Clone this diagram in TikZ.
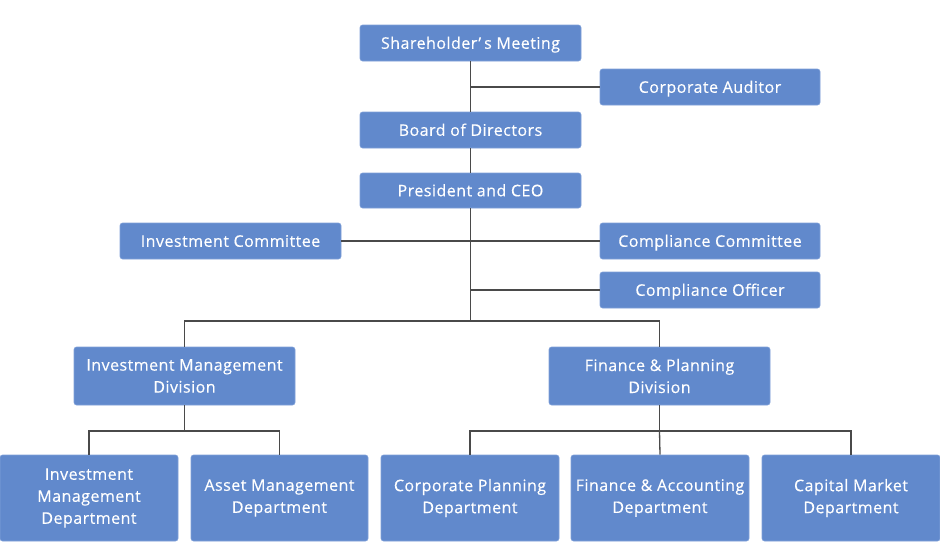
\documentclass[tikz,border=0pt]{standalone}
\usepackage{fontspec}
\setmainfont{Open Sans}[LetterSpace=3, FakeBold=0.35]
\definecolor{boxblue}{HTML}{6189CC}
\definecolor{boxedge}{HTML}{7FA0D8}
\definecolor{linegray}{HTML}{4A4A4A}
\tikzset{
  orgbox/.style={fill=boxblue, draw=boxedge, line width=0.6pt, rounded corners=2.5pt,
    text=white, align=center, inner sep=0pt, font=\fontsize{16}{22}\selectfont},
  onebox/.style={orgbox, text height=11.6pt, text depth=0pt},
  conn/.style={draw=linegray, line width=1.3pt},
}
\begin{document}
\begin{tikzpicture}[x=1pt,y=-1pt]
\useasboundingbox (0,0) rectangle (940,541);
% top chain
\node[onebox, minimum width=221, minimum height=36] (SM) at (470.5,43) {Shareholder’\hspace{3pt}s Meeting};
\node[onebox, minimum width=220, minimum height=36] (CA) at (710,87) {Corporate Auditor};
\node[onebox, minimum width=221, minimum height=36] (BD) at (470.5,130) {Board of Directors};
\node[onebox, minimum width=221, minimum height=35] (PC) at (470.5,190.5) {President and CEO};
\node[onebox, minimum width=221, minimum height=36] (IC) at (230.5,241) {Investment Committee};
\node[onebox, minimum width=220, minimum height=36] (CC) at (710,241) {Compliance Committee};
\node[onebox, minimum width=220, minimum height=36] (CO) at (710,290) {Compliance Officer};
% divisions
\node[orgbox, minimum width=221, minimum height=58] (IMD) at (184.5,376) {Investment Management\\Division};
\node[orgbox, minimum width=221, minimum height=58] (FPD) at (659.5,376) {Finance \& Planning\\Division};
% departments
\node[orgbox, minimum width=178, minimum height=86] (IMDep) at (89,498) {Investment\\Management\\Department};
\node[orgbox, minimum width=177, minimum height=86] (AMD) at (279.5,498) {Asset Management\\Department};
\node[orgbox, minimum width=178, minimum height=86] (CPD) at (470,498) {Corporate Planning\\Department};
\node[orgbox, minimum width=178, minimum height=86] (FAD) at (660,498) {Finance \& Accounting\\Department};
\node[orgbox, minimum width=178, minimum height=86] (CMD) at (851,498) {Capital Market\\Department};
% junctions
\coordinate (jdiv) at (470.5,321);
\coordinate (jimd) at (184.5,431);
\coordinate (jfpd) at (659.5,431);
% connectors
\draw[conn] (SM.south) -- (BD.north);
\draw[conn] (CA.west) -- (CA.west -| SM.south);
\draw[conn] (BD.south) -- (PC.north);
\draw[conn] (PC.south) -- (jdiv);
\draw[conn] (IC.east) -- (CC.west);
\draw[conn] (CO.west) -- (CO.west -| PC.south);
\draw[conn] (IMD.north) |- (jdiv) -| (FPD.north);
\draw[conn] (IMD.south) -- (jimd);
\draw[conn] (IMDep.north) |- (jimd) -| (AMD.north);
\draw[conn] (FPD.south) -- (jfpd);
\draw[conn] (CPD.north) |- (jfpd) -| (CMD.north);
\draw[conn] (jfpd) -- (FAD.north);
\end{tikzpicture}
\end{document}
